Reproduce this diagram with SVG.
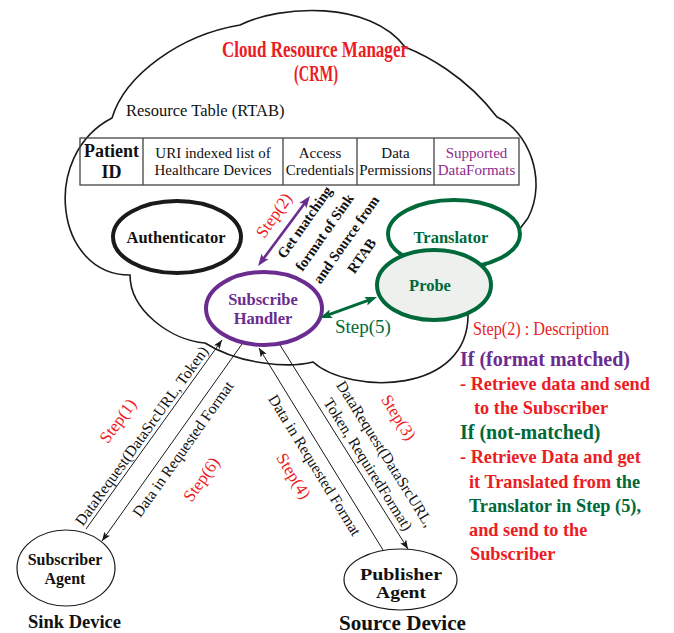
<svg xmlns="http://www.w3.org/2000/svg" width="674" height="633" viewBox="0 0 674 633">
<style>
text{font-family:"Liberation Serif","Times New Roman",serif;fill:#111}
.b{font-weight:bold}
.red{fill:#ec1c24}
.pur{fill:#6a2c91}
.grn{fill:#00693a}
.mag{fill:#8e2b8e}
.cloud{fill:#fff;stroke:#1a1a1a;stroke-width:1.6}
.tbl{fill:none;stroke:#444;stroke-width:1.3}
.thin{stroke:#1a1a1a;stroke-width:1;fill:none}
.lbl{font-size:15.5px}
.step{font-size:17px;fill:#ec1c24}
.desc{font-size:18.3px;font-weight:bold}
.cell{font-size:15px}
.node{font-size:16.5px;font-weight:bold}
</style>
<defs>
<marker id="ah" markerWidth="10" markerHeight="8" refX="9" refY="3.5" orient="auto" markerUnits="userSpaceOnUse">
<path d="M0,0 L9,3.5 L0,7 L2,3.5 Z" fill="#1a1a1a"/>
</marker>
<marker id="ap" markerWidth="13" markerHeight="10" refX="4" refY="4.5" orient="auto-start-reverse" markerUnits="userSpaceOnUse">
<path d="M0,0 L12,4.5 L0,9 L2.5,4.5 Z" fill="#6a2c91"/>
</marker>
<marker id="ag" markerWidth="13" markerHeight="10" refX="4" refY="4.5" orient="auto-start-reverse" markerUnits="userSpaceOnUse">
<path d="M0,0 L12,4.5 L0,9 L2.5,4.5 Z" fill="#00693a"/>
</marker>
</defs>

<g id="crm-cloud">
<path class="cloud" d="M112,118 C125,75 180,35 240,25 C280,5 370,0 405,47 C425,55 465,75 497,117 C528,130 548,180 528,218 Q505,250 482,268 Q478,300 468,313 C470,395 350,395 313,362 C290,368 240,365 205,343 C170,340 130,310 130,275 C55,275 40,155 112,118 Z"/>
<text x="315" y="57" text-anchor="middle" class="red b" font-size="24" textLength="186" lengthAdjust="spacingAndGlyphs">Cloud Resource Manager</text>
<text x="316" y="81" text-anchor="middle" class="red b" font-size="24" textLength="44" lengthAdjust="spacingAndGlyphs">(CRM)</text>
</g>

<g id="rtab">
<text x="126" y="116" font-size="16.5">Resource Table (RTAB)</text>
<rect class="tbl" x="80" y="138" width="439" height="47"/>
<path class="tbl" d="M143,138 V185 M283,138 V185 M357,138 V185 M434,138 V185"/>
<text class="b" font-size="18" x="111.5" y="157" text-anchor="middle">Patient</text>
<text class="b" font-size="18" x="111.5" y="178" text-anchor="middle">ID</text>
<text class="cell" x="213" y="158" text-anchor="middle">URI indexed list of</text>
<text class="cell" x="213" y="175" text-anchor="middle">Healthcare Devices</text>
<text class="cell" x="320" y="158" text-anchor="middle">Access</text>
<text class="cell" x="320" y="175" text-anchor="middle">Credentials</text>
<text class="cell" x="395.5" y="158" text-anchor="middle">Data</text>
<text class="cell" x="395.5" y="175" text-anchor="middle">Permissions</text>
<text class="cell mag" x="476.5" y="158" text-anchor="middle">Supported</text>
<text class="cell mag" x="476.5" y="175" text-anchor="middle">DataFormats</text>
</g>

<g id="authenticator">
<ellipse cx="177" cy="237" rx="64" ry="36" fill="#fff" stroke="#1a1a1a" stroke-width="4"/>
<text class="node" x="176" y="243" text-anchor="middle">Authenticator</text>
</g>

<g id="translator">
<ellipse cx="454" cy="234" rx="66" ry="34" fill="#fff" stroke="#00693a" stroke-width="4"/>
<text class="node grn" x="451" y="243" text-anchor="middle">Translator</text>
</g>

<g id="probe">
<ellipse cx="434" cy="285" rx="57" ry="35" fill="#eef0ee" stroke="#00693a" stroke-width="4"/>
<text class="node grn" x="430" y="291" text-anchor="middle">Probe</text>
</g>

<g id="subscribe-handler">
<ellipse cx="264" cy="308.5" rx="58" ry="36.5" fill="#fff" stroke="#6a2c91" stroke-width="4"/>
<text class="node pur" x="263" y="305" text-anchor="middle">Subscribe</text>
<text class="node pur" x="263" y="324" text-anchor="middle">Handler</text>
</g>

<g id="subscriber-agent">
<ellipse cx="66" cy="568" rx="49" ry="38" fill="#fff" stroke="#1a1a1a" stroke-width="1.2"/>
<text class="b" font-size="16" x="65" y="565" text-anchor="middle">Subscriber</text>
<text class="b" font-size="16" x="65" y="584" text-anchor="middle">Agent</text>
<text class="b" font-size="18.5" x="28" y="628">Sink Device</text>
</g>

<g id="publisher-agent">
<ellipse cx="400.5" cy="579.5" rx="56.5" ry="30.5" fill="#fff" stroke="#1a1a1a" stroke-width="1.2"/>
<text class="b" font-size="17" x="401" y="580" text-anchor="middle" textLength="82" lengthAdjust="spacingAndGlyphs">Publisher</text>
<text class="b" font-size="17" x="401" y="598" text-anchor="middle" textLength="50" lengthAdjust="spacingAndGlyphs">Agent</text>
<text class="b" font-size="20" x="339" y="630" textLength="127" lengthAdjust="spacingAndGlyphs">Source Device</text>
</g>

<g id="connectors">
<line x1="262.8" y1="259.6" x2="305.2" y2="202.4" stroke="#6a2c91" stroke-width="2.6" marker-start="url(#ap)" marker-end="url(#ap)"/>
<line x1="327.5" y1="315.2" x2="369.5" y2="299.8" stroke="#00693a" stroke-width="3" marker-start="url(#ag)" marker-end="url(#ag)"/>
<line class="thin" x1="86" y1="529" x2="222" y2="340" marker-end="url(#ah)"/>
<line class="thin" x1="242" y1="344" x2="102" y2="541" marker-end="url(#ah)"/>
<line class="thin" x1="383" y1="550" x2="259" y2="348" marker-end="url(#ah)"/>
<line class="thin" x1="280" y1="345" x2="408" y2="549" marker-end="url(#ah)"/>

<text class="step" transform="translate(274,215.5) rotate(-55)" x="0" y="5.5" text-anchor="middle">Step(2)</text>
<g transform="translate(284.5,259.5) rotate(-55)" class="b" font-size="14.5">
<text x="0" y="0">Get matching</text>
<text x="0" y="22">format of Sink</text>
<text x="0" y="44">and Source from</text>
<text x="28" y="66">RTAB</text>
</g>
<text class="grn" font-size="19" x="335" y="333">Step(5)</text>

<text class="lbl" transform="translate(141.8,436) rotate(-54.3)" x="0" y="5" text-anchor="middle">DataRequest(DataSrcURL, Token)</text>
<text class="step" transform="translate(118,421) rotate(-54.3)" x="0" y="5.5" text-anchor="middle">Step(1)</text>
<text class="lbl" transform="translate(183.2,449.1) rotate(-54.6)" x="0" y="5" text-anchor="middle">Data in Requested Format</text>
<text class="step" transform="translate(201.5,479.5) rotate(-54.6)" x="0" y="5.5" text-anchor="middle">Step(6)</text>
<text class="lbl" transform="translate(314.6,465.2) rotate(58.4)" x="0" y="5" text-anchor="middle">Data in Requested Format</text>
<text class="step" transform="translate(293.5,476) rotate(58.4)" x="0" y="5.5" text-anchor="middle">Step(4)</text>
<text class="lbl" transform="translate(385,453.9) rotate(57.9)" x="0" y="5" text-anchor="middle">DataRequest(DataSrcURL,</text>
<text class="lbl" transform="translate(368,464.5) rotate(57.9)" x="0" y="5" text-anchor="middle">Token, RequiredFormat)</text>
<text class="step" transform="translate(398.5,417.5) rotate(57.9)" x="0" y="5.5" text-anchor="middle">Step(3)</text>
</g>

<g id="description">
<text class="red" font-size="19" x="473" y="335" textLength="136" lengthAdjust="spacingAndGlyphs">Step(2) : Description</text>
<text class="b pur" font-size="20" x="460" y="366">If (format matched)</text>
<text class="desc red" x="460" y="390">- Retrieve data and send</text>
<text class="desc red" x="474" y="414">to the Subscriber</text>
<text class="b grn" font-size="20" x="460" y="439">If (not-matched)</text>
<text class="desc red" x="460" y="463">- Retrieve Data and get</text>
<text class="desc red" x="469" y="488">it Translated from <tspan class="grn">the</tspan></text>
<text class="desc grn" x="469" y="512">Translator in Step (5),</text>
<text class="desc red" x="469" y="536">and send to the</text>
<text class="desc red" x="470" y="560">Subscriber</text>
</g>
</svg>
